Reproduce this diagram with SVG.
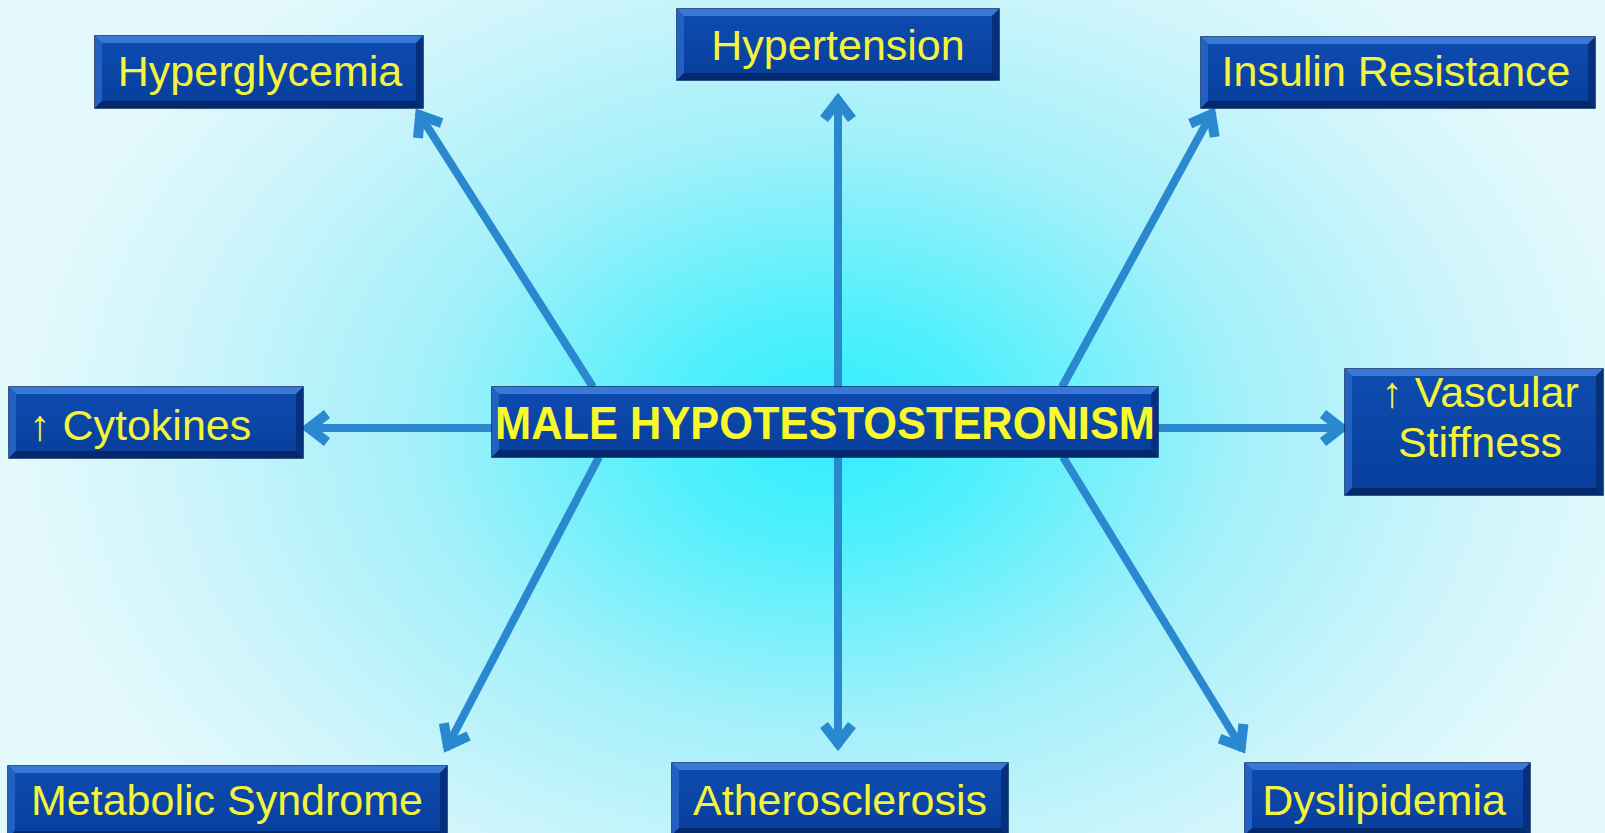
<svg xmlns="http://www.w3.org/2000/svg" width="1605" height="833" viewBox="0 0 1605 833">
<style>
.face{fill:url(#fg);stroke:#00205e;stroke-width:1.5}
.bt{fill:#3a78d8}
.bl{fill:#2260c2}
.br{fill:#062f7c}
.bb{fill:#04286c}
.lbl{font-family:"Liberation Sans",Arial,Helvetica,sans-serif;font-size:43px;fill:#f4f43c;text-anchor:middle}
.main{font-family:"Liberation Sans",Arial,Helvetica,sans-serif;font-size:46px;font-weight:bold;fill:#f8f82c;text-anchor:middle}
.arr{stroke:#2a88cf;stroke-width:8;fill:none;marker-end:url(#ah)}
</style>
<defs>
<radialGradient id="bg" gradientUnits="userSpaceOnUse" cx="830" cy="430" r="820" gradientTransform="translate(830 430) scale(1 0.72) translate(-830 -430)">
<stop offset="0" stop-color="#30eefc"/>
<stop offset="0.2" stop-color="#52f0fc"/>
<stop offset="0.5" stop-color="#a4f0fa"/>
<stop offset="0.8" stop-color="#cff5fb"/>
<stop offset="1" stop-color="#e4f9fc"/>
</radialGradient>
<linearGradient id="fg" x1="0" y1="0" x2="0" y2="1">
<stop offset="0" stop-color="#0e4cb0"/>
<stop offset="1" stop-color="#083e9c"/>
</linearGradient>
<marker id="ah" markerUnits="userSpaceOnUse" markerWidth="60" markerHeight="60" viewBox="-40 -30 60 60" refX="0" refY="0" orient="auto">
<path d="M -22 -14 L -4 0 L -22 14" stroke="#2a88cf" stroke-width="10" fill="none" stroke-linejoin="miter"/>
</marker>
</defs>
<rect x="0" y="0" width="1605" height="833" fill="url(#bg)"/>

<g id="connectors">
<line class="arr" x1="838" y1="387" x2="838" y2="97"/>
<line class="arr" x1="838" y1="457" x2="838" y2="747"/>
<line class="arr" x1="492" y1="428" x2="305" y2="428"/>
<line class="arr" x1="1158" y1="428" x2="1345" y2="428"/>
<line class="arr" x1="593" y1="387" x2="418" y2="112"/>
<line class="arr" x1="1062" y1="387" x2="1213" y2="111"/>
<line class="arr" x1="599" y1="457" x2="446" y2="749"/>
<line class="arr" x1="1063" y1="457" x2="1243" y2="750"/>
</g>

<g id="hyperglycemia">
<rect class="face" x="95" y="36" width="328" height="72"/>
<polygon class="bt" points="95,36 423,36 416,43 102,43"/>
<polygon class="bl" points="95,36 102,43 102,101 95,108"/>
<polygon class="br" points="423,36 423,108 416,101 416,43"/>
<polygon class="bb" points="95,108 102,101 416,101 423,108"/>
<text class="lbl" x="260" y="86">Hyperglycemia</text>
</g>

<g id="hypertension">
<rect class="face" x="677" y="9" width="322" height="71"/>
<polygon class="bt" points="677,9 999,9 992,16 684,16"/>
<polygon class="bl" points="677,9 684,16 684,73 677,80"/>
<polygon class="br" points="999,9 999,80 992,73 992,16"/>
<polygon class="bb" points="677,80 684,73 992,73 999,80"/>
<text class="lbl" x="838" y="60">Hypertension</text>
</g>

<g id="insulin-resistance">
<rect class="face" x="1201" y="37" width="394" height="71"/>
<polygon class="bt" points="1201,37 1595,37 1588,44 1208,44"/>
<polygon class="bl" points="1201,37 1208,44 1208,101 1201,108"/>
<polygon class="br" points="1595,37 1595,108 1588,101 1588,44"/>
<polygon class="bb" points="1201,108 1208,101 1588,101 1595,108"/>
<text class="lbl" x="1396" y="86">Insulin Resistance</text>
</g>

<g id="cytokines">
<rect class="face" x="9" y="387" width="294" height="71"/>
<polygon class="bt" points="9,387 303,387 296,394 16,394"/>
<polygon class="bl" points="9,387 16,394 16,451 9,458"/>
<polygon class="br" points="303,387 303,458 296,451 296,394"/>
<polygon class="bb" points="9,458 16,451 296,451 303,458"/>
<text class="lbl" x="29" y="440" style="text-anchor:start">↑ Cytokines</text>
</g>

<g id="vascular-stiffness">
<rect class="face" x="1345" y="369" width="258" height="126"/>
<polygon class="bt" points="1345,369 1603,369 1596,376 1352,376"/>
<polygon class="bl" points="1345,369 1352,376 1352,488 1345,495"/>
<polygon class="br" points="1603,369 1603,495 1596,488 1596,376"/>
<polygon class="bb" points="1345,495 1352,488 1596,488 1603,495"/>
<text class="lbl" x="1480" y="407">↑ Vascular</text>
<text class="lbl" x="1480" y="457">Stiffness</text>
</g>

<g id="metabolic-syndrome">
<rect class="face" x="8" y="766" width="439" height="72"/>
<polygon class="bt" points="8,766 447,766 440,773 15,773"/>
<polygon class="bl" points="8,766 15,773 15,831 8,838"/>
<polygon class="br" points="447,766 447,838 440,831 440,773"/>
<polygon class="bb" points="8,838 15,831 440,831 447,838"/>
<text class="lbl" x="227" y="815">Metabolic Syndrome</text>
</g>

<g id="atherosclerosis">
<rect class="face" x="672" y="763" width="336" height="72"/>
<polygon class="bt" points="672,763 1008,763 1001,770 679,770"/>
<polygon class="bl" points="672,763 679,770 679,828 672,835"/>
<polygon class="br" points="1008,763 1008,835 1001,828 1001,770"/>
<polygon class="bb" points="672,835 679,828 1001,828 1008,835"/>
<text class="lbl" x="840" y="815">Atherosclerosis</text>
</g>

<g id="dyslipidemia">
<rect class="face" x="1245" y="763" width="285" height="72"/>
<polygon class="bt" points="1245,763 1530,763 1523,770 1252,770"/>
<polygon class="bl" points="1245,763 1252,770 1252,828 1245,835"/>
<polygon class="br" points="1530,763 1530,835 1523,828 1523,770"/>
<polygon class="bb" points="1245,835 1252,828 1523,828 1530,835"/>
<text class="lbl" x="1384" y="815">Dyslipidemia</text>
</g>

<g id="male-hypotestosteronism">
<rect class="face" x="492" y="387" width="666" height="70"/>
<polygon class="bt" points="492,387 1158,387 1151,394 499,394"/>
<polygon class="bl" points="492,387 499,394 499,450 492,457"/>
<polygon class="br" points="1158,387 1158,457 1151,450 1151,394"/>
<polygon class="bb" points="492,457 499,450 1151,450 1158,457"/>
<text class="main" x="825" y="439" textLength="660" lengthAdjust="spacingAndGlyphs">MALE HYPOTESTOSTERONISM</text>
</g>
</svg>
